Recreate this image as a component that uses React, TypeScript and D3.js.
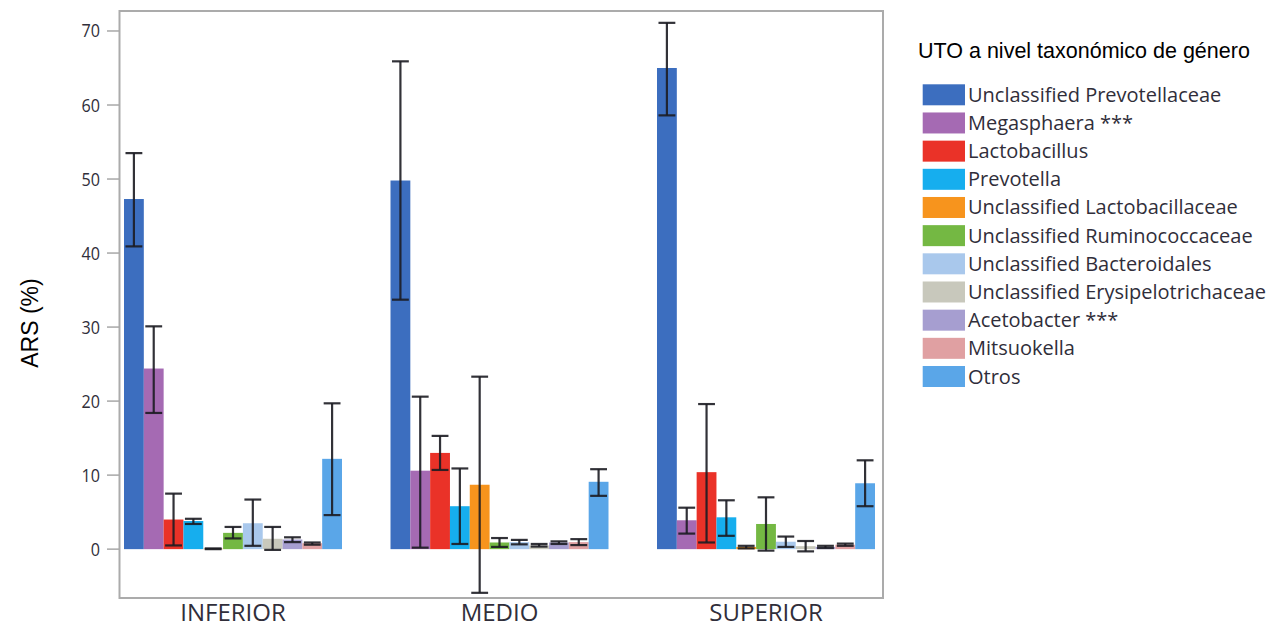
import React from "react";
import * as d3 from "d3";

const groups = ["INFERIOR", "MEDIO", "SUPERIOR"];
const genera = [
  "Unclassified Prevotellaceae",
  "Megasphaera ***",
  "Lactobacillus",
  "Prevotella",
  "Unclassified Lactobacillaceae",
  "Unclassified Ruminococcaceae",
  "Unclassified Bacteroidales",
  "Unclassified Erysipelotrichaceae",
  "Acetobacter ***",
  "Mitsuokella",
  "Otros",
];
const colors = [
  "#3c6ebf", "#a56ab3", "#ea3228", "#16aeee", "#f7941d", "#74b843",
  "#a9c8ec", "#c8c8bc", "#a69ed0", "#e0a0a2", "#5aa6e8",
];

const meanInferior = [47.3, 24.4, 4.0, 3.8, 0.05, 2.2, 3.5, 1.4, 1.3, 0.8, 12.2];
const lowInferior = [40.9, 18.4, 0.5, 3.4, 0.0, 1.45, 0.45, -0.1, 0.95, 0.6, 4.6];
const highInferior = [53.5, 30.1, 7.5, 4.1, 0.1, 3.0, 6.7, 3.0, 1.6, 0.9, 19.7];

const meanMedio = [49.8, 10.6, 13.0, 5.8, 8.7, 0.9, 0.95, 0.5, 0.9, 0.95, 9.1];
const lowMedio = [33.7, 0.2, 10.7, 0.7, -5.9, 0.3, 0.65, 0.35, 0.7, 0.55, 7.2];
const highMedio = [65.9, 20.6, 15.3, 10.9, 23.3, 1.5, 1.25, 0.7, 1.05, 1.35, 10.8];

const meanSuperior = [65.0, 3.9, 10.4, 4.3, 0.3, 3.4, 1.0, 0.4, 0.3, 0.6, 8.9];
const lowSuperior = [58.6, 2.1, 0.9, 1.8, 0.1, -0.2, 0.3, -0.3, 0.15, 0.45, 5.8];
const highSuperior = [71.1, 5.6, 19.6, 6.6, 0.45, 7.0, 1.7, 1.1, 0.45, 0.75, 12.0];

const yTicks = [0, 10, 20, 30, 40, 50, 60, 70];
const yLabel = "ARS (%)";
const legendTitle = "UTO a nivel taxonómico de género";

const means = [meanInferior, meanMedio, meanSuperior];
const lows = [lowInferior, lowMedio, lowSuperior];
const highs = [highInferior, highMedio, highSuperior];

export default function App() {
  const frame = { left: 119.5, right: 883, top: 11, bottom: 598 };
  const y = d3.scaleLinear().domain([-6.6, 72.7]).range([frame.bottom, frame.top]);
  const x0 = d3.scaleBand<string>().domain(groups).range([124, 875]).paddingInner(0.182);
  const x1 = d3.scaleBand<string>().domain(genera).range([0, x0.bandwidth()]);
  const bw = x1.bandwidth();
  const capW = bw * 0.85;
  const textColor = "#302e3a";
  const segoe = "'Open Sans', 'Noto Sans', sans-serif";
  const arial = "'Liberation Sans', Arial, sans-serif";

  return (
    <svg
      width={1279}
      height={629}
      style={{ position: "absolute", left: 0, top: 0, background: "#fff" }}
    >
      <rect x={0} y={0} width={1279} height={629} fill="#fff" />
      {groups.map((g, gi) => (
        <g key={g} transform={`translate(${x0(g)},0)`}>
          {genera.map((name, i) => {
            const v = means[gi][i];
            const y0 = y(0);
            const yv = y(v);
            return (
              <rect
                key={name}
                x={x1(name)}
                y={Math.min(y0, yv)}
                width={bw}
                height={Math.abs(y0 - yv)}
                fill={colors[i]}
              />
            );
          })}
          {genera.map((name, i) => {
            const cx = (x1(name) as number) + bw / 2;
            const lo = y(lows[gi][i]);
            const hi = y(highs[gi][i]);
            return (
              <g key={name + "e"} stroke="#1c1c22" strokeWidth={2.2} strokeOpacity={0.9}>
                <line x1={cx} x2={cx} y1={lo} y2={hi} />
                <line x1={cx - capW / 2} x2={cx + capW / 2} y1={lo} y2={lo} />
                <line x1={cx - capW / 2} x2={cx + capW / 2} y1={hi} y2={hi} />
              </g>
            );
          })}
        </g>
      ))}
      <rect
        x={frame.left}
        y={frame.top}
        width={frame.right - frame.left}
        height={frame.bottom - frame.top}
        fill="none"
        stroke="#ababab"
        strokeWidth={2}
      />
      {yTicks.map((t) => (
        <g key={t}>
          <line x1={107} x2={frame.left} y1={y(t)} y2={y(t)} stroke="#a8a8a8" strokeWidth={1.5} />
          <text
            transform={`translate(100,${y(t) + 6.5}) scale(0.85,1)`}
            textAnchor="end"
            fontFamily={segoe}
            fontSize={19}
            fill={textColor}
          >
            {t}
          </text>
        </g>
      ))}
      {groups.map((g) => (
        <text
          key={g}
          x={(x0(g) as number) + x0.bandwidth() / 2}
          y={621}
          textAnchor="middle"
          fontFamily={segoe}
          fontSize={24}
          fill={textColor}
        >
          {g}
        </text>
      ))}
      <text
        transform={`translate(38,323) rotate(-90)`}
        textAnchor="middle"
        fontFamily={arial}
        fontSize={23}
        fill="#000"
      >
        {yLabel}
      </text>
      <text x={918} y={58} fontFamily={arial} fontSize={21.5} fill="#000">
        {legendTitle}
      </text>
      {genera.map((name, i) => {
        const top = 84.3 + i * 28.17;
        return (
          <g key={name + "l"}>
            <rect x={922.7} y={top} width={42.3} height={21} fill={colors[i]} />
            <text
              x={968}
              y={top + 17.5}
              fontFamily={segoe}
              fontSize={20}
              fill={textColor}
            >
              {name}
            </text>
          </g>
        );
      })}
    </svg>
  );
}
